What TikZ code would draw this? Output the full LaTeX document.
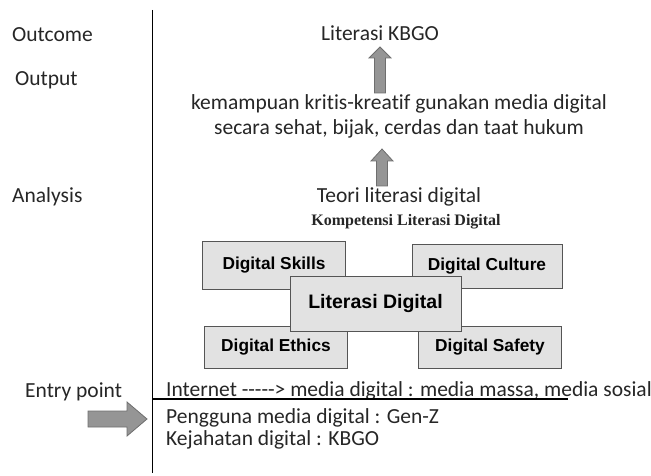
\documentclass[tikz,border=0pt]{standalone}
\usepackage{fontspec}
\setmainfont{Carlito}[Ligatures={TeXOff,NoCommon}]
\newfontfamily\arialfont{Liberation Sans}
\newfontfamily\timesfont{Liberation Serif}
\definecolor{boxfill}{HTML}{E2E2E2}
\definecolor{boxline}{HTML}{555555}
\definecolor{arrfill}{HTML}{959595}
\definecolor{arrline}{HTML}{6E6E6E}
\definecolor{txt}{HTML}{262626}
\begin{document}
\begin{tikzpicture}[x=1pt,y=-1pt,
  lbl/.style={text=txt,font=\fontsize{21.5}{25}\selectfont,inner sep=0pt},
  compbox/.style={draw=boxline,line width=1pt,fill=boxfill,inner sep=0pt,
     font=\arialfont\bfseries\fontsize{17.3}{20}\selectfont,text=black},
  blockarrow/.style={draw=arrline,line width=0.8pt,fill=arrfill},
  axis/.style={line width=1.5pt,black}]
\useasboundingbox (0,0) rectangle (651,476);
% axis
\coordinate (vtop) at (152.5,10);
\coordinate (vbot) at (152.5,473);
\draw[axis] (vtop) -- (vbot);
% left labels
\node[lbl,anchor=west] (outcome) at (12,35) {Outcome};
\node[lbl,anchor=west] (output) at (15,80) {Output};
\node[lbl,anchor=west] (analysis) at (12,197) {Analysis};
\node[lbl,anchor=west] (entry) at (25,392) {Entry point};
% right column
\node[lbl] (kbgo) at (380,33) {Literasi KBGO};
\node[lbl,align=center] (kemampuan) at (399,116.5) {kemampuan kritis-kreatif gunakan media digital\\secara sehat, bijak, cerdas dan taat hukum};
\node[lbl] (teori) at (399,197) {Teori literasi digital};
\node[inner sep=0pt,font=\timesfont\bfseries\fontsize{16}{19}\selectfont,text=txt] (komp) at (406,222) {Kompetensi Literasi Digital};
% block arrows
\draw[blockarrow] (374.5,93) -- (374.5,58) -- (369,58) -- (380,47) -- (391,58) -- (385.5,58) -- (385.5,93) -- cycle;
\draw[blockarrow] (376.5,186) -- (376.5,161) -- (371,161) -- (382,149) -- (393,161) -- (387.5,161) -- (387.5,186) -- cycle;
\draw[blockarrow] (88,411) -- (127,411) -- (127,402) -- (147,419) -- (127,436) -- (127,427) -- (88,427) -- cycle;
% competence boxes
\node[compbox,minimum width=143pt,minimum height=48pt] (skills) at (274,265) {Digital Skills};
\node[compbox,minimum width=150pt,minimum height=44pt] (culture) at (487,266) {Digital Culture};
\node[compbox,minimum width=143pt,minimum height=42pt] (ethics) at (276,347) {Digital Ethics};
\node[compbox,minimum width=143pt,minimum height=42pt] (safety) at (490,347) {Digital Safety};
\node[compbox,minimum width=171pt,minimum height=55pt,font=\arialfont\bfseries\fontsize{19.5}{22}\selectfont] (literasi) at (375.5,304) {Literasi Digital};
% entry point text
\node[lbl,anchor=base west] (internet) at (166,396) {Internet -----> media digital : media massa, media sosial};
\coordinate (hstart) at (152.5,399);
\coordinate (hend) at (568,399);
\draw[line width=1.3pt,black] (hstart) -- (hend);
\node[lbl,anchor=west] (pengguna) at (166,418) {Pengguna media digital : Gen-Z};
\node[lbl,anchor=west] (kejahatan) at (166,440) {Kejahatan digital : KBGO};
\end{tikzpicture}
\end{document}
